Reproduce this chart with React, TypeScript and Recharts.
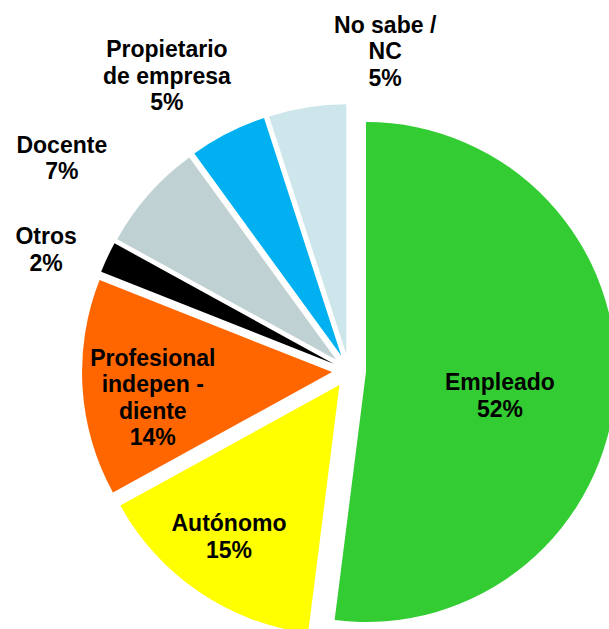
import React from 'react';
import { PieChart, Pie, Cell, Sector } from 'recharts';

const categories = [
  'Empleado',
  'Autónomo',
  'Profesional independiente',
  'Otros',
  'Docente',
  'Propietario de empresa',
  'No sabe / NC',
];
const percentages = [52, 15, 14, 2, 7, 5, 5];
const labelLines = [
  ['Empleado'],
  ['Autónomo'],
  ['Profesional', 'indepen -', 'diente'],
  ['Otros'],
  ['Docente'],
  ['Propietario', 'de empresa'],
  ['No sabe /', 'NC'],
];
const sliceColors = ['#33CC33', '#FFFF00', '#FF6600', '#000000', '#C0D1D3', '#00B0F0', '#CDE6EB'];

// label layout (distance from slice apex as a fraction of the radius, angular nudge in degrees)
const labelRadius = [0.544, 0.75, 0.724, 1.238, 1.362, 1.32, 1.222];
const labelAngleShift = [-6.3, -1.9, 4.4, 3.5, 5.1, 4.9, -16.3];

const data = categories.map((name, i) => ({ name, value: percentages[i] }));

const EXPLODE = 17;
const RADIAN = Math.PI / 180;
const FONT = 'Arial, "Liberation Sans", Helvetica, sans-serif';
const LINE_H = 26.5;

const renderSlice = (props: any) => {
  const { cx, cy, midAngle, innerRadius, outerRadius, startAngle, endAngle, fill } = props;
  const dx = EXPLODE * Math.cos(-midAngle * RADIAN);
  const dy = EXPLODE * Math.sin(-midAngle * RADIAN);
  return (
    <Sector
      cx={cx + dx}
      cy={cy + dy}
      innerRadius={innerRadius}
      outerRadius={outerRadius}
      startAngle={startAngle}
      endAngle={endAngle}
      fill={fill}
      stroke="none"
    />
  );
};

const renderLabel = (props: any) => {
  const { cx, cy, midAngle, outerRadius, index } = props;
  const ax = cx + EXPLODE * Math.cos(-midAngle * RADIAN);
  const ay = cy + EXPLODE * Math.sin(-midAngle * RADIAN);
  const a = midAngle + labelAngleShift[index];
  const r = labelRadius[index] * outerRadius;
  const px = ax + r * Math.cos(-a * RADIAN);
  const py = ay + r * Math.sin(-a * RADIAN);
  const lines = [...labelLines[index], `${percentages[index]}%`];
  const n = lines.length;
  return (
    <text
      key={`lbl-${index}`}
      textAnchor="middle"
      dominantBaseline="central"
      fontFamily={FONT}
      fontWeight="bold"
      fontSize={23}
      fill="#000"
    >
      {lines.map((t, i) => (
        <tspan key={i} x={px} y={py + (i - (n - 1) / 2) * LINE_H}>
          {t}
        </tspan>
      ))}
    </text>
  );
};

export default function App() {
  return (
    <div style={{ position: 'absolute', left: 0, top: 0, width: 609, height: 629, background: '#fff' }}>
      <PieChart width={609} height={629} margin={{ top: 0, right: 0, bottom: 0, left: 0 }}>
        <Pie
          data={data}
          dataKey="value"
          nameKey="name"
          cx={349}
          cy={371}
          innerRadius={0}
          outerRadius={250}
          startAngle={90}
          endAngle={-270}
          stroke="none"
          isAnimationActive={false}
          labelLine={false}
          label={renderLabel}
          shape={renderSlice}
          activeShape={renderSlice}
          inactiveShape={renderSlice}
        >
          {data.map((d, i) => (
            <Cell key={d.name} fill={sliceColors[i]} />
          ))}
        </Pie>
      </PieChart>
    </div>
  );
}
